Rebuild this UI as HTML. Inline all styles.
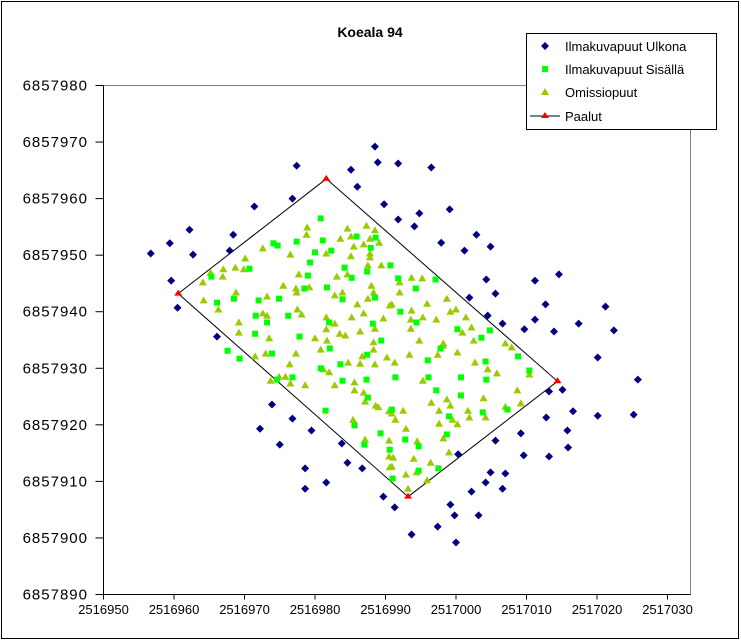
<!DOCTYPE html>
<html><head><meta charset="utf-8"><style>
html,body{margin:0;padding:0;background:#fff}
svg{display:block;font-family:"Liberation Sans",Arial,sans-serif}
</style></head><body>
<svg id="chart" width="741" height="642" viewBox="0 0 741 642" xmlns="http://www.w3.org/2000/svg">
<rect x="1.5" y="1.5" width="737" height="637" fill="#fff" stroke="#000"/>
<text x="370" y="37" text-anchor="middle" font-size="14" font-weight="bold">Koeala 94</text>
<rect x="103.5" y="85.5" width="587" height="509" fill="#fff" stroke="#808080"/>
<g id="axes"></g>
<g id="marks"></g>
<g>
<rect x="526.5" y="33.5" width="190" height="96" fill="#fff" stroke="#000"/>
<g><path d="M545 42l4 4-4 4-4-4z" fill="#000080"/><text x="565" y="51" font-size="13">Ilmakuvapuut Ulkona</text></g>
<g><rect x="542" y="66" width="6" height="6" fill="#00ff00"/><text x="565" y="74" font-size="13">Ilmakuvapuut Sisällä</text></g>
<g><path d="M545 88l4 7h-8z" fill="#99cc00"/><text x="565" y="97" font-size="13">Omissiopuut</text></g>
<g><line x1="530" y1="116" x2="560" y2="116" stroke="#000"/><path d="M545 112l4 6h-8z" fill="#ff0000"/><text x="565" y="121" font-size="13">Paalut</text></g>
</g>
</svg>
<script>
// Data (metres, offsets from base coordinates)
const baseX = 2516950;
const baseY = 6857890;
const xTicks = [2516950,2516960,2516970,2516980,2516990,2517000,2517010,2517020,2517030];
const yTicks = [6857890,6857900,6857910,6857920,6857930,6857940,6857950,6857960,6857970,6857980];
const ulkonaX = [38.5,38.9,27.4,35.1,36.0,26.8,39.8,21.4,12.2,18.4,9.4,6.7,12.7,17.9,9.6,10.5,16.1,41.8,46.5,44.8,49.1,41.8,44.1,52.9,47.9,51.2,54.9,54.3,61.2,64.6,55.6,51.9,62.7,71.2,54.5,61.2,56.6,67.4,59.7,63.9,72.4,23.9,26.8,22.2,29.5,25.0,33.8,34.6,28.6,36.7,31.6,28.6,39.7,70.1,75.8,63.2,65.1,66.6,70.1,75.2,62.8,65.8,59.2,55.6,65.9,59.6,63.2,50.3,54.9,57.0,54.2,56.6,52.2,41.3,49.2,49.8,53.2,47.4,43.7,50.0];
const ulkonaY = [79.2,76.4,75.8,75.1,72.1,70.0,69.0,68.6,64.5,63.6,62.1,60.3,60.1,60.8,55.5,50.7,45.6,76.2,75.5,67.4,68.1,66.3,65.1,63.6,62.2,60.8,61.5,55.7,55.5,56.6,53.2,52.5,51.3,50.9,49.3,48.6,47.9,47.9,46.9,46.5,46.7,33.6,31.1,29.3,29.0,26.5,26.7,23.3,22.3,22.3,19.8,18.7,17.3,41.9,38.0,35.9,36.2,32.4,31.6,31.8,31.3,29.0,28.5,27.2,26.0,24.6,24.4,24.8,21.6,21.4,19.8,18.7,18.2,15.4,15.9,14.0,14.0,12.0,10.6,9.2];
const sisallaX = [30.8,35.9,31.1,38.6,27.4,24.1,24.7,32.3,30.0,37.9,29.3,34.2,37.4,20.7,29.0,35.2,15.3,31.7,28.5,24.9,22.0,18.5,16.1,33.9,38.5,21.6,26.2,23.2,32.0,38.2,21.5,27.8,39.4,40.7,41.8,44.3,47.1,42.1,44.4,50.2,53.6,54.8,17.6,19.3,23.9,26.8,24.6,32.1,30.8,33.6,37.4,33.9,37.3,37.5,31.5,35.6,39.3,37.0,40.6,47.8,46.0,54.2,58.8,60.4,41.4,50.7,54.3,46.1,47.2,50.7,57.3,53.8,49.0,40.9,48.7,42.8,44.7,47.5,44.7,41.0];
const sisallaY = [66.5,63.3,62.6,63.1,62.4,62.1,61.7,60.8,60.5,61.3,58.7,57.8,57.1,57.6,56.4,56.0,56.2,54.3,54.1,52.3,52.0,52.3,51.6,52.2,52.5,49.3,49.3,48.1,48.1,47.9,46.1,45.6,44.9,58.2,55.9,54.1,55.7,50.0,48.1,46.9,45.4,46.7,43.1,41.7,42.6,38.4,38.0,43.5,40.0,40.7,42.4,37.8,38.0,34.8,32.5,29.9,28.5,26.5,25.6,43.5,41.4,41.2,42.1,39.6,38.4,38.4,38.0,38.4,36.1,35.2,32.7,32.2,31.5,32.7,28.3,27.4,26.2,22.3,21.9,20.5];
const omissioX = [28.9,28.8,34.6,37.3,38.5,33.6,35.1,35.5,36.9,37.8,39.1,22.6,26.5,31.6,35.1,37.8,37.8,20.1,18.7,19.9,17.0,16.9,15.2,14.1,27.7,33.1,34.6,37.5,39.4,25.5,27.3,27.4,29.2,38.0,33.9,32.8,38.3,23.2,18.8,14.2,37.5,16.3,36.0,40.6,27.5,28.1,22.6,23.2,35.2,36.9,39.7,31.6,32.8,19.2,19.2,23.5,30.0,31.6,31.7,33.5,34.3,36.4,38.5,38.3,42.0,42.0,43.7,45.2,40.9,45.9,48.7,43.7,49.2,50.0,43.6,45.3,47.2,51.4,43.6,50.9,52.2,52.5,44.8,48.2,57.0,21.5,23.0,27.3,30.8,26.4,23.7,24.9,25.8,26.5,28.6,31.2,32.0,32.8,34.7,36.4,38.5,36.7,38.3,40.2,35.6,35.6,36.9,37.1,38.6,39.0,40.5,35.4,37.1,40.5,40.5,40.6,48.2,57.9,43.4,41.3,47.4,50.2,52.7,54.5,55.8,60.4,45.3,58.7,53.9,46.5,48.7,49.2,57.0,59.2,42.5,40.9,41.4,47.6,49.5,50.2,51.9,51.7,54.2,47.6,42.9,48.2,44.5,49.0,44.0,41.1,46.4,40.9,42.9,44.4,45.9,43.2];
const omissioY = [64.9,63.6,64.7,65.2,64.4,62.9,63.3,61.5,61.9,62.9,62.2,61.2,60.1,60.3,59.8,60.3,59.6,59.4,57.8,57.5,57.5,56.2,56.9,55.2,56.6,56.2,56.6,58.2,58.2,54.6,54.1,53.4,54.3,54.6,53.4,52.9,53.4,52.7,53.4,52.0,52.3,50.4,51.3,51.1,50.4,49.5,49.7,49.3,49.0,49.7,48.8,49.0,47.9,48.1,46.3,45.3,45.3,46.9,44.9,46.1,45.8,46.5,47.0,44.6,55.2,53.4,56.0,55.9,51.3,51.4,52.3,50.2,50.0,50.4,48.6,49.0,48.6,49.0,47.0,46.3,47.2,44.9,44.9,44.4,44.4,42.1,42.6,42.6,43.3,40.7,37.8,38.5,38.5,37.3,37.0,39.8,39.3,37.0,41.0,40.8,40.7,42.1,43.3,41.9,37.5,36.1,35.7,34.1,33.4,33.1,32.4,30.9,27.4,27.2,24.4,22.5,44.0,43.7,42.4,41.0,42.4,42.8,41.0,39.8,39.1,38.9,37.8,36.1,34.7,33.9,34.5,33.4,33.2,33.8,32.5,32.0,30.9,32.5,30.9,30.1,31.3,32.5,31.3,30.2,29.3,27.6,27.1,25.1,24.0,24.2,23.3,22.6,21.2,21.6,20.2,18.7];
const paalutX = [10.6,31.6,64.4,43.2,10.6];
const paalutY = [53.2,73.5,37.7,17.3,53.2];

// Axis functions
const PX0=103.5, PXMAX=667.5, PY0=594.5, PY1=85.5;
const xMin=2516950, xMax=2517030, yMin=6857890, yMax=6857980;
function sx(v){return PX0+(v-xMin)/(xMax-xMin)*(PXMAX-PX0);}
function sy(v){return PY0-(v-yMin)/(yMax-yMin)*(PY0-PY1);}
const NS="http://www.w3.org/2000/svg";
function mk(tag,attrs,parent){const e=document.createElementNS(NS,tag);for(const k in attrs)e.setAttribute(k,attrs[k]);parent.appendChild(e);return e;}
const axes=document.getElementById('axes');
const marks=document.getElementById('marks');
mk('line',{x1:PX0,y1:PY0,x2:690.5,y2:PY0,stroke:'#000'},axes);
mk('line',{x1:PX0,y1:PY0,x2:PX0,y2:PY1,stroke:'#000'},axes);
xTicks.forEach(t=>{
  const x=sx(t);
  const tk=mk('line',{x1:x,y1:PY0,x2:x,y2:PY0+5,stroke:'#000'},axes);
  
  
  const tx=mk('text',{x:x,y:614,'text-anchor':'middle','font-size':'13'},axes);
  
  
  tx.textContent=t;
});
yTicks.forEach(t=>{
  const y=sy(t);
  const tk=mk('line',{x1:PX0-8,y1:y,x2:PX0,y2:y,stroke:'#000'},axes);
  
  
  const tx=mk('text',{x:88,y:y+5,'text-anchor':'end','font-size':'15','letter-spacing':'1'},axes);
  
  
  tx.textContent=t;
});
// Paalut line
let d='';
paalutX.forEach((v,i)=>{d+=(i?'L':'M')+sx(baseX+v).toFixed(1)+' '+sy(baseY+paalutY[i]).toFixed(1);});
const pl=mk('path',{d:d,fill:'none',stroke:'#000','stroke-width':'1'},marks);


ulkonaX.forEach((v,i)=>{
  const x=sx(baseX+v), y=sy(baseY+ulkonaY[i]);
  const p=mk('path',{d:`M${x} ${y-4}l4 4-4 4-4-4z`,fill:'#000080'},marks);
  
  
});
omissioX.forEach((v,i)=>{
  const x=sx(baseX+v), y=sy(baseY+omissioY[i]);
  const p=mk('path',{d:`M${x} ${y-4}l4 7h-8z`,fill:'#99cc00'},marks);
  
  
});
sisallaX.forEach((v,i)=>{
  const x=sx(baseX+v), y=sy(baseY+sisallaY[i]);
  const p=mk('rect',{x:x-3,y:y-3,width:6,height:6,fill:'#00ff00'},marks);
  
  
});
paalutX.slice(0,4).forEach((v,i)=>{
  const x=sx(baseX+v), y=sy(baseY+paalutY[i]);
  const p=mk('path',{d:`M${x} ${y-4}l4 6h-8z`,fill:'#ff0000'},marks);
  
  
});
</script>
</body></html>
